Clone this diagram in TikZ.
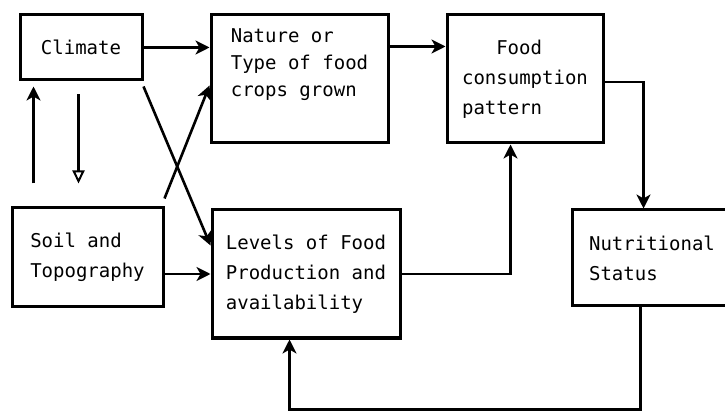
\documentclass[tikz,border=0pt]{standalone}
\usepackage{fontspec}
\newfontfamily\typewriter{DejaVu Sans Mono}
\usetikzlibrary{arrows.meta}
\begin{document}
\begin{tikzpicture}[
    x=1pt, y=-1pt,
  box/.style={draw, line width=3pt, align=left, inner sep=0pt,
    font=\typewriter\fontsize{19}{30}\selectfont},
  arr/.style={line width=2.6pt, -{Stealth[length=14pt, width=14pt, inset=4pt]}},
  harr/.style={line width=2.6pt, -{Triangle[open, length=13pt, width=12pt, line width=2pt]}}
]
\useasboundingbox (0,0) rectangle (725,419);

% --- boxes ---
\node[box, minimum width=122pt, minimum height=65pt]  (climate) at (81,47.5)  {Climate};
\node[box, minimum width=177pt, minimum height=128pt] (nature)  at (299.5,79) {Nature or\\[-3pt]Type of food\\[-3pt]crops grown\\[2pt]};
\node[box, minimum width=156pt, minimum height=128pt] (food)    at (525,79)   {\hspace*{1.8em}Food\\consumption\\pattern};
\node[box, minimum width=151pt, minimum height=99pt]  (soil)    at (87.5,257.5) {Soil and\\Topography};
\node[box, minimum width=188pt, minimum height=128pt] (levels)  at (306,274)  {Levels of Food\\Production and\\availability};
\node[box, minimum width=160pt, minimum height=96pt]  (nutri)   at (652,258)  {Nutritional\\Status};

% --- climate and soil ---
\draw[arr, shorten <=23pt, shorten >=5pt] ([xshift=23pt]soil.north west) -- ([xshift=15pt]climate.south west);
\draw[harr, shorten <=13pt, shorten >=23pt] ([xshift=60pt]climate.south west) -- ([xshift=68pt]soil.north west);

% --- into the crop boxes ---
\draw[arr] (climate.east) -- (climate.east -| nature.west);
\draw[arr] ([yshift=-5pt]climate.south east) -- ([yshift=-37pt]levels.north west);
\draw[arr] ([yshift=8pt]soil.north east) -- ([yshift=-72pt]nature.north west);
\draw[arr] (soil.east |- levels.west) -- (levels.west);

% --- towards consumption and status ---
\draw[arr] ([yshift=-33pt]nature.north east) -- ([yshift=-33pt]food.north west);
\draw[arr] (levels.east) -| ([xshift=65pt]food.south west);
\draw[arr] ([yshift=-3pt]food.east) -| ([xshift=73pt]nutri.north west);

% --- feedback loop ---
\draw[arr] ([xshift=70pt]nutri.south west) -- ++(0,102) -| ([xshift=79pt]levels.south west);
\end{tikzpicture}
\end{document}
